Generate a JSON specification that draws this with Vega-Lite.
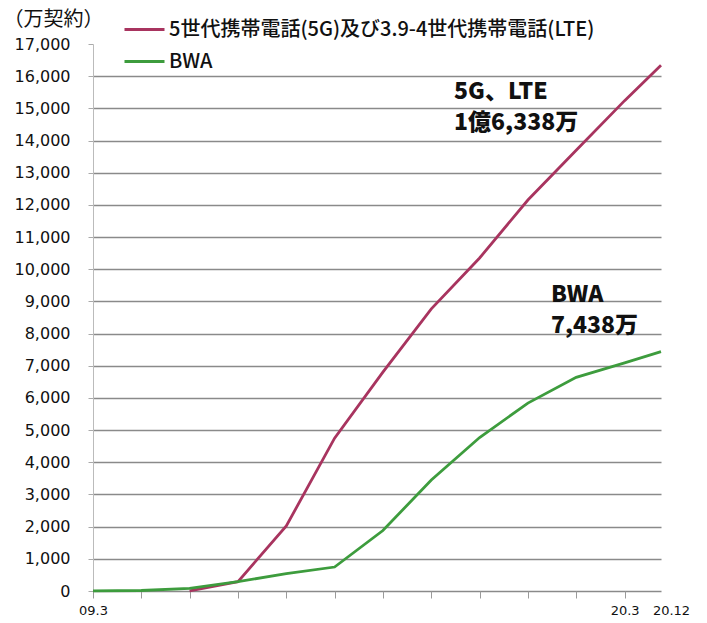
{
  "$schema": "https://vega.github.io/schema/vega-lite/v6.json",
  "width": 568,
  "height": 547,
  "autosize": {"type": "none"},
  "padding": {"left": 93, "top": 44, "right": 46, "bottom": 32},
  "background": "white",
  "config": {
    "view": {"stroke": null},
    "font": "Noto Sans CJK JP"
  },
  "datasets": {
    "series": [
      {"series": "5世代携帯電話(5G)及び3.9-4世代携帯電話(LTE)", "date": "2011-03-01", "value": 3},
      {"series": "5世代携帯電話(5G)及び3.9-4世代携帯電話(LTE)", "date": "2012-03-01", "value": 290},
      {"series": "5世代携帯電話(5G)及び3.9-4世代携帯電話(LTE)", "date": "2013-03-01", "value": 2020},
      {"series": "5世代携帯電話(5G)及び3.9-4世代携帯電話(LTE)", "date": "2014-03-01", "value": 4750},
      {"series": "5世代携帯電話(5G)及び3.9-4世代携帯電話(LTE)", "date": "2015-03-01", "value": 6800},
      {"series": "5世代携帯電話(5G)及び3.9-4世代携帯電話(LTE)", "date": "2016-03-01", "value": 8770},
      {"series": "5世代携帯電話(5G)及び3.9-4世代携帯電話(LTE)", "date": "2017-03-01", "value": 10350},
      {"series": "5世代携帯電話(5G)及び3.9-4世代携帯電話(LTE)", "date": "2018-03-01", "value": 12150},
      {"series": "5世代携帯電話(5G)及び3.9-4世代携帯電話(LTE)", "date": "2019-03-01", "value": 13700},
      {"series": "5世代携帯電話(5G)及び3.9-4世代携帯電話(LTE)", "date": "2020-03-01", "value": 15240},
      {"series": "5世代携帯電話(5G)及び3.9-4世代携帯電話(LTE)", "date": "2020-12-01", "value": 16338},
      {"series": "BWA", "date": "2009-03-01", "value": 5},
      {"series": "BWA", "date": "2010-03-01", "value": 15},
      {"series": "BWA", "date": "2011-03-01", "value": 80},
      {"series": "BWA", "date": "2012-03-01", "value": 290},
      {"series": "BWA", "date": "2013-03-01", "value": 540},
      {"series": "BWA", "date": "2014-03-01", "value": 745},
      {"series": "BWA", "date": "2015-03-01", "value": 1880},
      {"series": "BWA", "date": "2016-03-01", "value": 3450},
      {"series": "BWA", "date": "2017-03-01", "value": 4770},
      {"series": "BWA", "date": "2018-03-01", "value": 5840},
      {"series": "BWA", "date": "2019-03-01", "value": 6640},
      {"series": "BWA", "date": "2020-03-01", "value": 7090},
      {"series": "BWA", "date": "2020-12-01", "value": 7438}
    ],
    "notes": [
      {"text": "5G、LTE\n1億6,338万", "date": "2016-08-20", "value": 15497},
      {"text": "BWA\n7,438万", "date": "2018-08-22", "value": 9189}
    ]
  },
  "encoding": {
    "x": {
      "field": "date",
      "type": "temporal",
      "scale": {"type": "utc", "domain": [{"year": 2009, "month": 3, "date": 1, "utc": true}, {"year": 2020, "month": 12, "date": 1, "utc": true}]},
      "axis": {
        "title": null,
        "values": [
          {"year": 2009, "month": 3, "date": 1, "utc": true},
          {"year": 2010, "month": 3, "date": 1, "utc": true},
          {"year": 2011, "month": 3, "date": 1, "utc": true},
          {"year": 2012, "month": 3, "date": 1, "utc": true},
          {"year": 2013, "month": 3, "date": 1, "utc": true},
          {"year": 2014, "month": 3, "date": 1, "utc": true},
          {"year": 2015, "month": 3, "date": 1, "utc": true},
          {"year": 2016, "month": 3, "date": 1, "utc": true},
          {"year": 2017, "month": 3, "date": 1, "utc": true},
          {"year": 2018, "month": 3, "date": 1, "utc": true},
          {"year": 2019, "month": 3, "date": 1, "utc": true},
          {"year": 2020, "month": 3, "date": 1, "utc": true},
          {"year": 2020, "month": 12, "date": 1, "utc": true}
        ],
        "labelExpr": "indexof(['09.3','20.3','20.12'], utcFormat(datum.value, '%y.%-m')) >= 0 ? utcFormat(datum.value, '%y.%-m') : ''",
        "labelOverlap": false,
        "labelFlush": false,
        "labelBound": false,
        "labelFont": "DejaVu Sans",
        "labelFontSize": 13,
        "labelColor": "#111",
        "labelPadding": 6,
        "labelOffset": {"condition": {"test": "utcmonth(datum.value) == 11", "value": 10}, "value": 0},
        "domain": false,
        "grid": false,
        "ticks": true,
        "tickSize": 7,
        "tickColor": "#9a9a9a",
        "tickWidth": 1,
        "tickOpacity": {"condition": {"test": "utcmonth(datum.value) == 11", "value": 0}, "value": 1}
      }
    },
    "y": {
      "field": "value",
      "type": "quantitative",
      "scale": {"domain": [0, 17000], "nice": false},
      "axis": {
        "title": "（万契約）",
        "titleAngle": 0,
        "titleAlign": "left",
        "titleBaseline": "middle",
        "titleX": -90,
        "titleY": -25,
        "titleFont": "Noto Sans CJK JP",
        "titleFontSize": 20,
        "titleFontWeight": "normal",
        "titleColor": "#111",
        "values": [0, 1000, 2000, 3000, 4000, 5000, 6000, 7000, 8000, 9000, 10000, 11000, 12000, 13000, 14000, 15000, 16000, 17000],
        "labelOverlap": false,
        "format": ",d",
        "labelFont": "DejaVu Sans",
        "labelFontSize": 16,
        "labelColor": "#111",
        "labelPadding": 18,
        "tickSize": 5,
        "tickColor": "#aaaaaa",
        "domainColor": "#bbbbbb",
        "domainWidth": 1,
        "grid": true,
        "gridColor": "#8a8a8a",
        "gridWidth": 1.6,
        "gridOpacity": {"condition": {"test": "datum.value == 17000", "value": 0}, "value": 1}
      }
    }
  },
  "layer": [
    {
      "data": {"name": "series"},
      "mark": {"type": "line", "strokeWidth": 2.8},
      "encoding": {
        "color": {
          "field": "series",
          "type": "nominal",
          "scale": {
            "domain": ["5世代携帯電話(5G)及び3.9-4世代携帯電話(LTE)", "BWA"],
            "range": ["#a8345f", "#3d9c3d"]
          },
          "legend": {
            "title": null,
            "orient": "none",
            "legendX": 30,
            "legendY": -36,
            "direction": "vertical",
            "symbolType": "stroke",
            "symbolSize": 1600,
            "symbolStrokeWidth": 3,
            "labelFont": "Noto Sans CJK JP",
            "labelFontSize": 20,
            "labelFontWeight": 500,
            "labelColor": "#111",
            "labelLimit": 700,
            "labelOffset": 3,
            "rowPadding": 0
          }
        }
      }
    },
    {
      "data": {"name": "notes"},
      "mark": {"type": "text", "align": "left", "baseline": "middle", "lineBreak": "\n", "lineHeight": 31, "font": "Noto Sans CJK JP", "fontSize": 23, "fontWeight": 900, "color": "#111"},
      "encoding": {
        "text": {"field": "text", "type": "nominal"}
      }
    }
  ]
}
